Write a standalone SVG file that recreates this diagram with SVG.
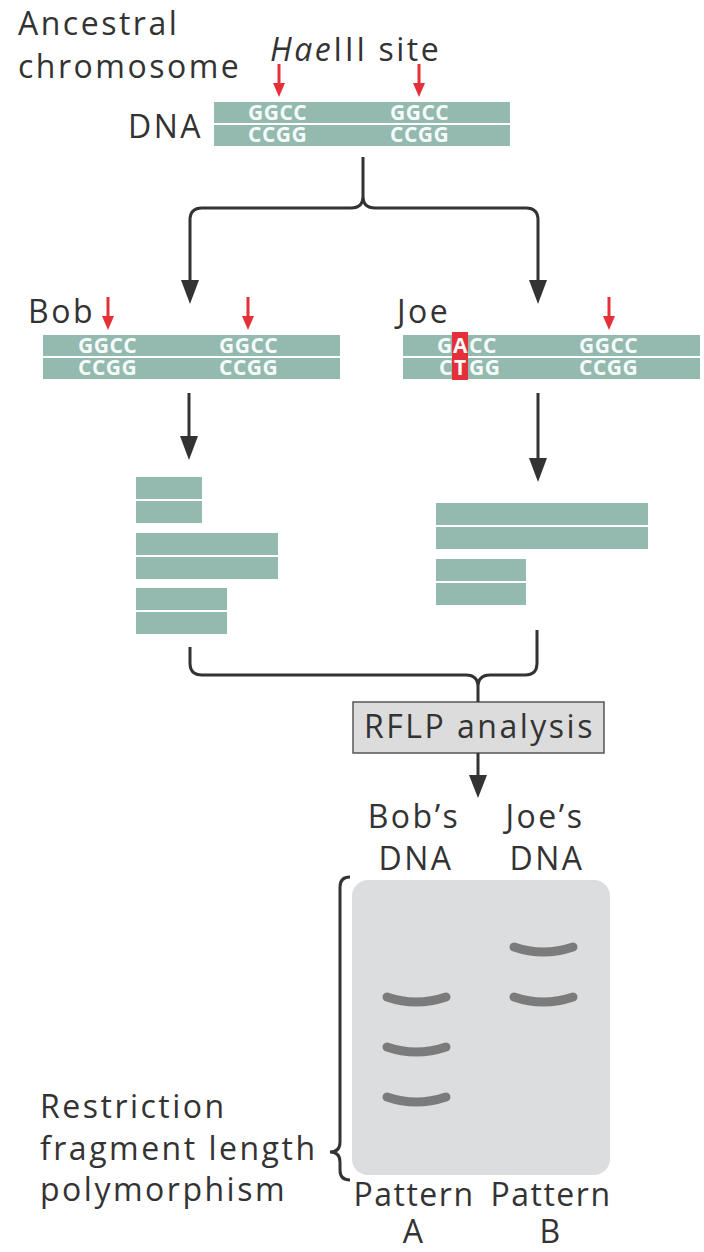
<svg xmlns="http://www.w3.org/2000/svg" width="704" height="1252" viewBox="0 0 704 1252">
<defs>
<style>
.lbl{font-family:"Open Sans","Liberation Sans",sans-serif;font-size:32px;letter-spacing:2.5px;fill:#333}
.tight{letter-spacing:1.5px}
.base{font-family:"Open Sans","Liberation Sans",sans-serif;font-size:21px;font-weight:bold;letter-spacing:0.5px;fill:#f4fbf9}
.strand{fill:#94b9af}
.conn{fill:none;stroke:#333;stroke-width:3}
.head{fill:#333}
.red{fill:#e5303a}
.redl{stroke:#e5303a;stroke-width:3}
.band{fill:none;stroke:#7b7b7b;stroke-width:9;stroke-linecap:round}
</style>
</defs>
<rect width="704" height="1252" fill="#fff"/>

<g id="ancestral">
<text class="lbl" x="18" y="35">Ancestral</text>
<text class="lbl" x="18" y="78">chromosome</text>
<text class="lbl" x="270" y="61"><tspan font-style="italic">Hae</tspan>III site</text>
<text class="lbl" x="128" y="138">DNA</text>
<rect class="strand" x="214" y="102" width="296" height="21"/>
<rect class="strand" x="214" y="125" width="296" height="21"/>
<text class="base" x="248" y="120">GGCC</text>
<text class="base" x="390" y="120">GGCC</text>
<text class="base" x="248" y="142">CCGG</text>
<text class="base" x="390" y="142">CCGG</text>
<line class="redl" x1="279" y1="64" x2="279" y2="85"/>
<polygon class="red" points="273,83 285,83 279,97"/>
<line class="redl" x1="419" y1="64" x2="419" y2="85"/>
<polygon class="red" points="413,83 425,83 419,97"/>
</g>

<g id="bob">
<text class="lbl" x="28" y="323">Bob</text>
<rect class="strand" x="43" y="335" width="297" height="21"/>
<rect class="strand" x="43" y="358" width="297" height="21"/>
<text class="base" x="78" y="353">GGCC</text>
<text class="base" x="219" y="353">GGCC</text>
<text class="base" x="78" y="375">CCGG</text>
<text class="base" x="219" y="375">CCGG</text>
<line class="redl" x1="108" y1="297" x2="108" y2="318"/>
<polygon class="red" points="102,316 114,316 108,330"/>
<line class="redl" x1="248" y1="297" x2="248" y2="318"/>
<polygon class="red" points="242,316 254,316 248,330"/>
</g>

<g id="joe">
<text class="lbl" x="397" y="323">Joe</text>
<rect class="strand" x="403" y="335" width="297" height="21"/>
<rect class="strand" x="403" y="358" width="297" height="21"/>
<rect class="red" x="452" y="332" width="16" height="48"/>
<text class="base" y="353"><tspan x="437">G</tspan><tspan x="453">A</tspan><tspan x="469">CC</tspan></text>
<text class="base" y="375"><tspan x="439">C</tspan><tspan x="454">T</tspan><tspan x="469">GG</tspan></text>
<text class="base" x="579" y="353">GGCC</text>
<text class="base" x="579" y="375">CCGG</text>
<line class="redl" x1="609" y1="297" x2="609" y2="318"/>
<polygon class="red" points="603,316 615,316 609,330"/>
</g>

<g id="bob-fragments">
<rect class="strand" x="136" y="477" width="66" height="22"/>
<rect class="strand" x="136" y="501" width="66" height="22"/>
<rect class="strand" x="136" y="533" width="142" height="22"/>
<rect class="strand" x="136" y="557" width="142" height="22"/>
<rect class="strand" x="136" y="588" width="91" height="22"/>
<rect class="strand" x="136" y="612" width="91" height="22"/>
</g>

<g id="joe-fragments">
<rect class="strand" x="436" y="503" width="212" height="22"/>
<rect class="strand" x="436" y="527" width="212" height="22"/>
<rect class="strand" x="436" y="559" width="90" height="22"/>
<rect class="strand" x="436" y="583" width="90" height="22"/>
</g>

<g id="rflp">
<rect x="353" y="702" width="251" height="51" fill="#dcdcdc" stroke="#555" stroke-width="1.5"/>
<text class="lbl" x="364" y="738">RFLP analysis</text>
</g>

<g id="gel">
<text class="lbl" x="414" y="828" text-anchor="middle">Bob’s</text>
<text class="lbl" x="416" y="870" text-anchor="middle">DNA</text>
<text class="lbl" x="545" y="828" text-anchor="middle">Joe’s</text>
<text class="lbl" x="547" y="870" text-anchor="middle">DNA</text>
<rect x="352" y="880" width="258" height="295" rx="16" fill="#dcdddf"/>
<path class="band" d="M387,997 Q416,1007 446,997"/>
<path class="band" d="M387,1047 Q416,1057 446,1047"/>
<path class="band" d="M387,1097 Q416,1107 446,1097"/>
<path class="band" d="M514,947 Q543,957 573,947"/>
<path class="band" d="M514,997 Q543,1007 573,997"/>
<path class="conn" d="M350,877 Q340,877 340,887 V1142 Q340,1152 330,1152 Q340,1152 340,1162 V1170 Q340,1180 350,1180"/>
<text class="lbl tight" x="414" y="1206" text-anchor="middle">Pattern</text>
<text class="lbl" x="414" y="1243" text-anchor="middle">A</text>
<text class="lbl tight" x="551" y="1206" text-anchor="middle">Pattern</text>
<text class="lbl" x="551" y="1243" text-anchor="middle">B</text>
</g>

<g id="rflp-label">
<text class="lbl" x="40" y="1118">Restriction</text>
<text class="lbl" x="40" y="1160">fragment length</text>
<text class="lbl" x="40" y="1201">polymorphism</text>
</g>

<g id="connectors">
<path class="conn" d="M190,284 V220 Q190,208 202,208 H351 Q363,208 363,196 V157 M363,196 Q363,208 375,208 H526 Q538,208 538,220 V284"/>
<polygon class="head" points="181,280 199,280 190,304"/>
<polygon class="head" points="529,280 547,280 538,304"/>
<path class="conn" d="M189,393 V440"/>
<polygon class="head" points="180,436 198,436 189,460"/>
<path class="conn" d="M538,393 V462"/>
<polygon class="head" points="529,458 547,458 538,482"/>
<path class="conn" d="M190,647 V663 Q190,675 202,675 H466 Q478,675 478,687 V702 M478,687 Q478,675 490,675 H525 Q537,675 537,663 V630"/>
<path class="conn" d="M478,753 V780"/>
<polygon class="head" points="469,775 487,775 478,798"/>
</g>
</svg>
